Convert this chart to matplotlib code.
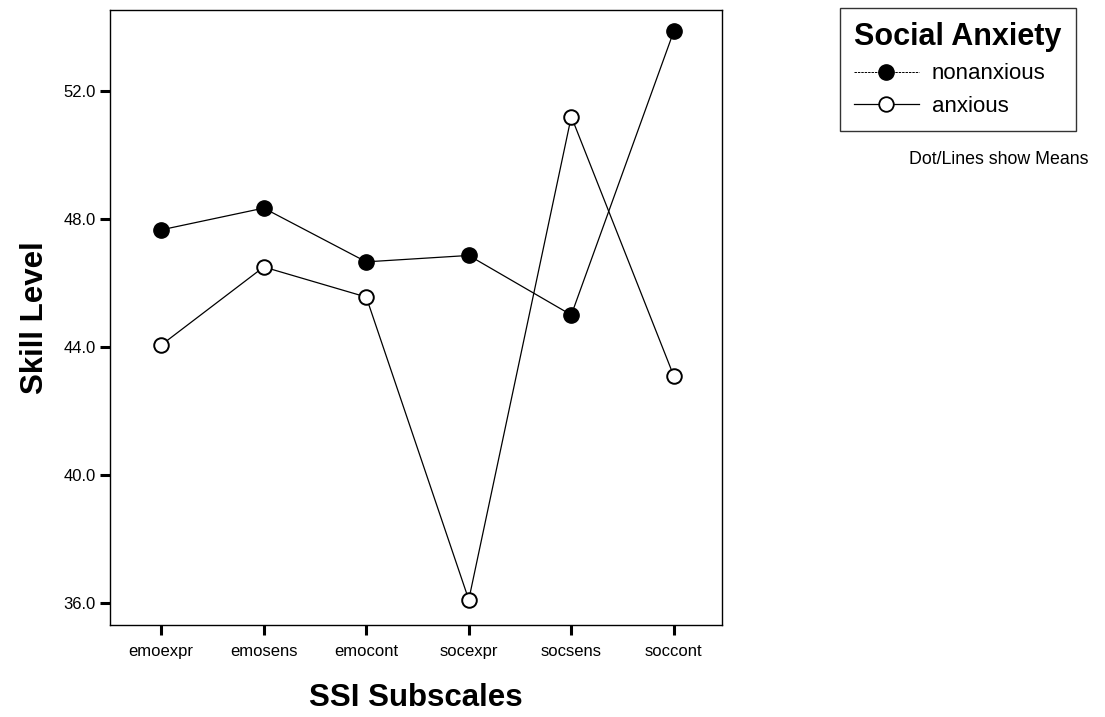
import matplotlib
matplotlib.use("Agg")
import matplotlib.pyplot as plt
from matplotlib.lines import Line2D

plt.rcParams['font.family'] = ['Liberation Sans', 'DejaVu Sans']

categories = ["emoexpr", "emosens", "emocont", "socexpr", "socsens", "soccont"]
nonanxious = [47.66, 48.34, 46.66, 46.86, 45.0, 53.87]
anxious = [44.06, 46.5, 45.56, 36.1, 51.2, 43.09]
yticks = [36.0, 40.0, 44.0, 48.0, 52.0]

fig = plt.figure(figsize=(11.05, 7.17), dpi=100)
ax = fig.add_axes([0.0995, 0.1283, 0.5539, 0.8577])

x = list(range(len(categories)))
ax.plot(x, nonanxious, color='black', lw=0.9, marker='o', markersize=11,
        markerfacecolor='black', markeredgecolor='black', zorder=3)
ax.plot(x, anxious, color='black', lw=0.9, marker='o', markersize=10.5,
        markerfacecolor='white', markeredgecolor='black', markeredgewidth=1.4, zorder=3)

ax.set_xlim(-0.5, 5.47)
ax.set_ylim(35.31, 54.53)
ax.set_xticks(x)
ax.set_xticklabels(categories, fontsize=12)
ax.set_yticks(yticks)
ax.set_yticklabels([f"{v:.1f}" for v in yticks], fontsize=12)
ax.tick_params(axis='both', direction='out', length=7, width=2.2, pad=3)
ax.tick_params(axis='x', pad=7)
for s in ax.spines.values():
    s.set_linewidth(1.0)

ax.set_ylabel("Skill Level", fontsize=22.5, fontweight='bold', labelpad=10)
ax.set_xlabel("SSI Subscales", fontsize=22.5, fontweight='bold', labelpad=17)

handles = [
    Line2D([], [], color='black', lw=0.7, ls=(0, (2.5, 1)), marker='o', markersize=11,
           markerfacecolor='black', markeredgecolor='black'),
    Line2D([], [], color='black', lw=0.9, marker='o', markersize=10.5,
           markerfacecolor='white', markeredgecolor='black', markeredgewidth=1.3),
]
leg = fig.legend(handles, ["nonanxious", "anxious"], loc='upper left',
                 bbox_to_anchor=(0.760, 0.989), frameon=True, fancybox=False,
                 title="Social Anxiety", fontsize=16, handlelength=2.9,
                 handletextpad=0.6, borderpad=0.65, labelspacing=0.5,
                 borderaxespad=0.0)
leg.get_title().set_fontsize(22)
leg.get_title().set_fontweight('bold')
leg._legend_box.align = "left"
leg.get_frame().set_edgecolor('black')
leg.get_frame().set_linewidth(1.0)

fig.text(0.904, 0.778, "Dot/Lines show Means", fontsize=12.8, ha='center', va='center')

fig.savefig("out.png", dpi=100)
